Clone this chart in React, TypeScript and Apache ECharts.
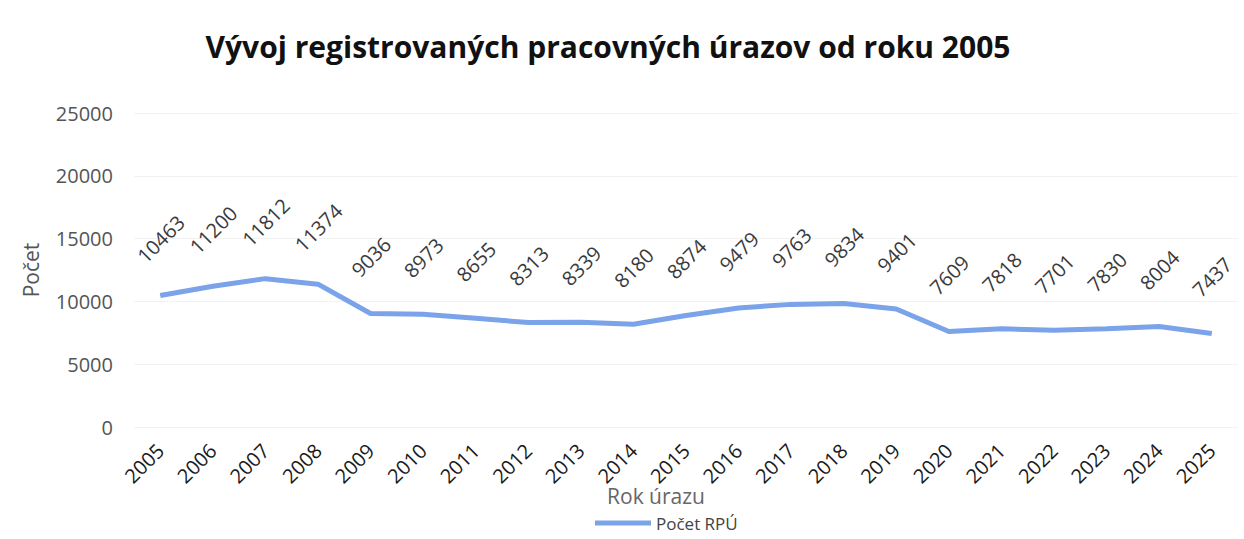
import React, { useEffect, useRef } from "react";
import * as echarts from "echarts";

const years = ["2005","2006","2007","2008","2009","2010","2011","2012","2013","2014","2015","2016","2017","2018","2019","2020","2021","2022","2023","2024","2025"];
const counts = [10463,11200,11812,11374,9036,8973,8655,8313,8339,8180,8874,9479,9763,9834,9401,7609,7818,7701,7830,8004,7437];
const titleText = "Vývoj registrovaných pracovných úrazov od roku 2005";
const seriesName = "Počet RPÚ";
const yName = "Počet";
const xName = "Rok úrazu";

export default function App() {
  const ref = useRef<HTMLDivElement>(null);
  useEffect(() => {
    if (!ref.current) return;
    const chart = echarts.init(ref.current, null, { renderer: "svg" });
    const font = "'Open Sans', 'DejaVu Sans', sans-serif";
    chart.setOption({
      animation: false,
      backgroundColor: "#ffffff",
      textStyle: { fontFamily: font },
      title: {
        text: titleText,
        left: 603,
        top: 26,
        textAlign: "center",
        textStyle: { fontFamily: font, fontWeight: "bold", fontSize: 30, color: "#111111" },
      },
      graphic: [
        {
          type: "text",
          x: 656,
          y: 496,
          style: {
            text: xName,
            fontFamily: font,
            fontSize: 21,
            fill: "#666666",
            align: "center",
            verticalAlign: "middle",
          },
        },
      ],
      legend: {
        data: [seriesName],
        left: 595,
        top: 514,
        padding: 0,
        itemWidth: 56,
        itemHeight: 5,
        itemGap: 2,
        icon: "rect",
        textStyle: { fontFamily: font, fontSize: 17, color: "#444444", lineHeight: 18 },
      },
      grid: { left: 134, right: 6, top: 113, bottom: 112, containLabel: false },
      xAxis: {
        type: "category",
        data: years,
        boundaryGap: true,
        axisLine: { show: false },
        axisTick: { show: false },
        axisLabel: { rotate: 45, fontSize: 20, color: "#1a1a1a", margin: 20, fontFamily: font },
      },
      yAxis: {
        type: "value",
        min: 0,
        max: 25000,
        interval: 5000,
        name: yName,
        nameLocation: "middle",
        nameGap: 93,
        nameRotate: 90,
        nameTextStyle: { fontFamily: font, fontSize: 21, color: "#555555" },
        axisLine: { show: false },
        axisTick: { show: false },
        axisLabel: {
          fontSize: 20,
          color: "#555555",
          margin: 21,
          fontFamily: font,
          formatter: (v: number) => String(v),
        },
        splitLine: { lineStyle: { color: "#f2f2f2", width: 1 } },
      },
      series: [
        {
          name: seriesName,
          type: "line",
          data: counts,
          symbol: "circle",
          symbolSize: 1,
          showSymbol: true,
          lineStyle: { color: "#7ba3ea", width: 5 },
          itemStyle: { color: "#7ba3ea" },
          label: {
            show: true,
            position: [1, -56],
            rotate: 45,
            align: "center",
            verticalAlign: "middle",
            fontSize: 20,
            color: "#3a3a3a",
            fontFamily: font,
          },
          labelLayout: { hideOverlap: false },
        },
      ],
    });
    return () => chart.dispose();
  }, []);
  return <div ref={ref} style={{ position: "fixed", left: 0, top: 0, width: 1244, height: 539 }} />;
}
